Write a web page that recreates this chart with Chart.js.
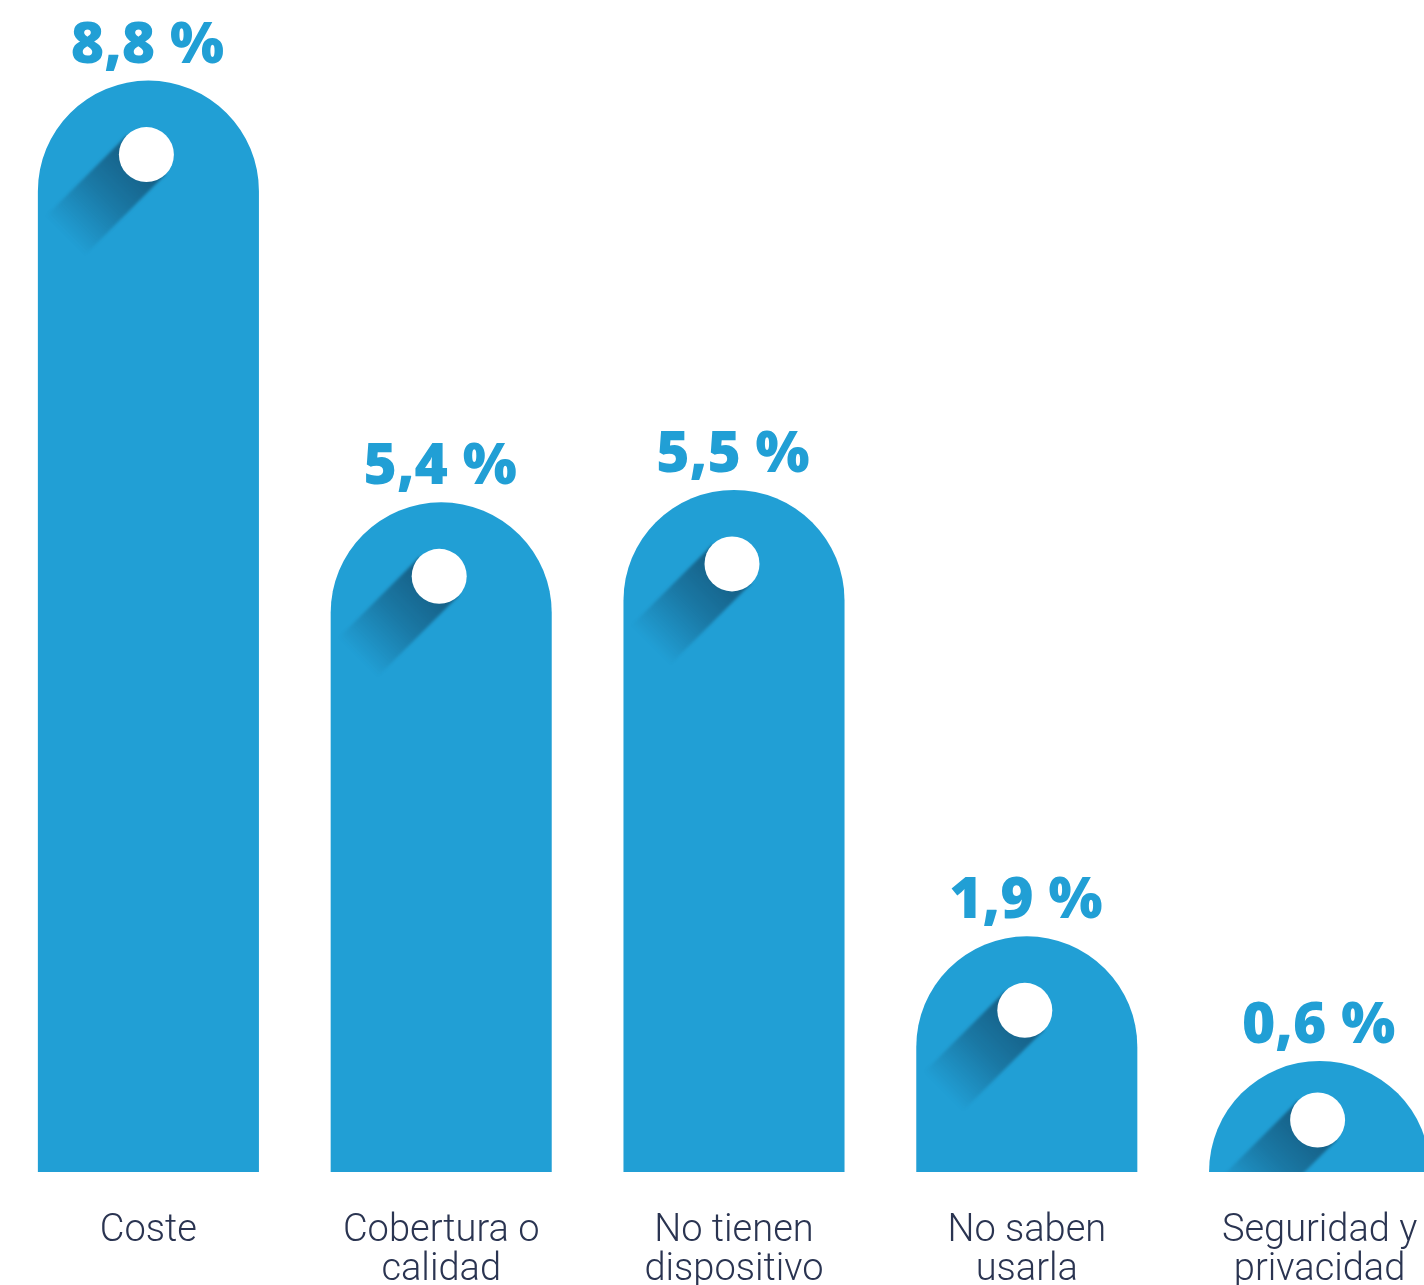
<!DOCTYPE html>
<html lang="es">
<head>
<meta charset="utf-8">
<title>Motivos para no tener internet</title>
<script src="https://cdn.jsdelivr.net/npm/chart.js@4/dist/chart.umd.min.js"></script>
<style>
  html, body { margin: 0; padding: 0; background: #ffffff; overflow: hidden; }
  #wrap { position: relative; width: 1468px; height: 1285px; }
</style>
</head>
<body>
<div id="wrap"><canvas id="reasonsChart"></canvas></div>
<script>
// Categories and values (%)
const categories = [
  ['Coste'],
  ['Cobertura o', 'calidad'],
  ['No tienen', 'dispositivo'],
  ['No saben', 'usarla'],
  ['Seguridad y', 'privacidad']
];
const values = [8.8, 5.4, 5.5, 1.9, 0.6];
const valueLabels = ['8,8 %', '5,4 %', '5,5 %', '1,9 %', '0,6 %'];

const palette = {
  bar: '#219fd5',
  dot: '#ffffff',
  shadow: 'rgba(16, 62, 92, 0.7)',
  label: '#219fd5',
  category: '#2a3451'
};

/**
 * Draws each bar as a pill with a round top, a white dot and a long
 * diagonal shadow, then writes the value above it.
 */
const pillBars = {
  id: 'pillBars',
  beforeDatasetsDraw(chart) {
    const { ctx } = chart;
    const meta = chart.getDatasetMeta(0);

    meta.data.forEach((bar, i) => {
      const { x, y, width, base } = bar.getProps(['x', 'y', 'width', 'base'], true);
      const r = width / 2;
      const top = Math.min(y, base - r);

      // Bar body
      ctx.save();
      ctx.beginPath();
      ctx.moveTo(x - r, base);
      ctx.lineTo(x - r, top + r);
      ctx.arc(x, top + r, r, Math.PI, 0);
      ctx.lineTo(x + r, base);
      ctx.closePath();
      ctx.fillStyle = palette.bar;
      ctx.fill();
      ctx.clip();

      // Dot position
      const dotR = 27.5;
      const cx = x - 2;
      const cy = Math.min(top + 74, base - 52);

      // Long shadow going down-left
      ctx.save();
      ctx.translate(cx, cy);
      ctx.rotate(Math.PI * 3 / 4);
      const len = 115;
      const grad = ctx.createLinearGradient(0, 0, len, 0);
      grad.addColorStop(0, palette.shadow);
      grad.addColorStop(0.5, 'rgba(16, 62, 92, 0.4)');
      grad.addColorStop(1, 'rgba(16, 62, 92, 0)');
      ctx.filter = 'blur(1.5px)';
      ctx.fillStyle = grad;
      ctx.fillRect(0, -dotR, len, dotR * 2);
      ctx.restore();
      ctx.restore();

      // White dot
      ctx.save();
      ctx.beginPath();
      ctx.arc(cx, cy, dotR, 0, Math.PI * 2);
      ctx.fillStyle = palette.dot;
      ctx.fill();
      ctx.restore();

      // Value label
      ctx.save();
      ctx.font = '800 57px "Open Sans", Lato, sans-serif';
      ctx.fillStyle = palette.label;
      ctx.textAlign = 'center';
      ctx.textBaseline = 'alphabetic';
      ctx.fillText(valueLabels[i], x - 1, top - 18);
      ctx.restore();
    });

    // Skip the default rectangles
    return false;
  }
};

const ctx = document.getElementById('reasonsChart').getContext('2d');

new Chart(ctx, {
  type: 'bar',
  data: {
    labels: categories,
    datasets: [{
      data: values,
      backgroundColor: palette.bar,
      categoryPercentage: 1,
      barPercentage: 0.755,
      minBarLength: 111
    }]
  },
  options: {
    responsive: true,
    maintainAspectRatio: false,
    animation: false,
    layout: {
      padding: { left: 2, right: 2, top: 0, bottom: 0 }
    },
    scales: {
      x: {
        grid: { display: false, drawTicks: false },
        border: { display: false },
        ticks: {
          color: palette.category,
          padding: 40,
          font: { family: 'Roboto', weight: '300', size: 38, lineHeight: 1.03 },
          maxRotation: 0,
          autoSkip: false
        },
        afterFit: (scale) => { scale.height = 113; }
      },
      y: {
        display: false,
        min: 0,
        max: 9.45
      }
    },
    plugins: {
      legend: { display: false },
      tooltip: { enabled: false }
    }
  },
  plugins: [pillBars]
});
</script>
</body>
</html>
